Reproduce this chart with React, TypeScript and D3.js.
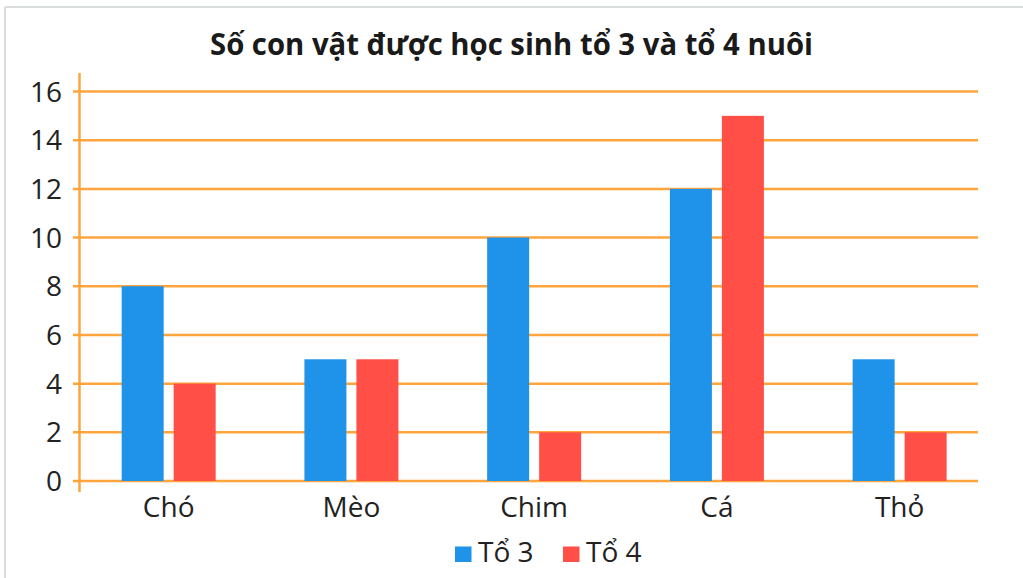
import React from "react";
import * as d3 from "d3";

const categories = ["Chó", "Mèo", "Chim", "Cá", "Thỏ"];
const seriesNames = ["Tổ 3", "Tổ 4"];
const to3 = [8, 5, 10, 12, 5];
const to4 = [4, 5, 2, 15, 2];
const yTicks = [0, 2, 4, 6, 8, 10, 12, 14, 16];
const title = "Số con vật được học sinh tổ 3 và tổ 4 nuôi";

const W = 1023;
const H = 578;
const COLORS = ["#1f93e9", "#ff4f46"];
const ORANGE = "#ffa53c";
const FONT = "'Open Sans', 'Noto Sans', sans-serif";

export default function App() {
  const y = d3.scaleLinear().domain([0, 16]).range([481, 91.5]);
  const x0 = d3.scaleBand<string>().domain(categories).range([77.3, 991]).padding(0);
  const x1 = d3
    .scaleBand<string>()
    .domain(seriesNames)
    .range([0, 94])
    .paddingInner(0.1923)
    .paddingOuter(0);
  const values = [to3, to4];
  const axisX = 79.5;

  return (
    <svg
      width={W}
      height={H}
      style={{ position: "absolute", left: 0, top: 0, background: "#fff" }}
    >
      <rect x={0} y={0} width={W} height={H} fill="#fff" />
      {/* frame */}
      <line x1={5} x2={5} y1={7} y2={H} stroke="#d9dddd" strokeWidth={2} />
      <line x1={5} x2={W} y1={7} y2={7} stroke="#d9dddd" strokeWidth={2} />

      <text
        x={511.5}
        y={55}
        textAnchor="middle"
        fontFamily={FONT}
        fontWeight={700}
        fontSize={31}
        fill="#1a1a1a"
        textLength={603}
        lengthAdjust="spacingAndGlyphs"
      >
        {title}
      </text>

      {/* gridlines */}
      {yTicks.map((t) => (
        <line
          key={t}
          x1={73}
          x2={978}
          y1={y(t)}
          y2={y(t)}
          stroke={ORANGE}
          strokeWidth={2.5}
        />
      ))}
      <line x1={axisX} x2={axisX} y1={73} y2={492} stroke={ORANGE} strokeWidth={2.5} />

      {/* y tick labels */}
      {yTicks.map((t) => (
        <text
          key={t}
          x={62}
          y={y(t) + 10}
          textAnchor="end"
          fontFamily={FONT}
          fontSize={28}
          fill="#222"
        >
          {t}
        </text>
      ))}

      {/* bars */}
      {categories.map((c, i) => {
        const gx = (x0(c) as number) + x0.bandwidth() / 2 - 47;
        return (
          <g key={c}>
            {seriesNames.map((s, j) => (
              <rect
                key={s}
                x={gx + (x1(s) as number)}
                y={y(values[j][i])}
                width={x1.bandwidth()}
                height={y(0) - y(values[j][i])}
                fill={COLORS[j]}
              />
            ))}
            <text
              x={(x0(c) as number) + x0.bandwidth() / 2}
              y={517}
              textAnchor="middle"
              fontFamily={FONT}
              fontSize={28}
              fill="#222"
            >
              {c}
            </text>
          </g>
        );
      })}

      {/* legend */}
      {seriesNames.map((s, j) => {
        const lx = j === 0 ? 455 : 563;
        return (
          <g key={s}>
            <rect x={lx} y={546.5} width={16.5} height={15.5} fill={COLORS[j]} />
            <text x={lx + 23} y={561.5} fontFamily={FONT} fontSize={28} fill="#222">
              {s}
            </text>
          </g>
        );
      })}
    </svg>
  );
}
